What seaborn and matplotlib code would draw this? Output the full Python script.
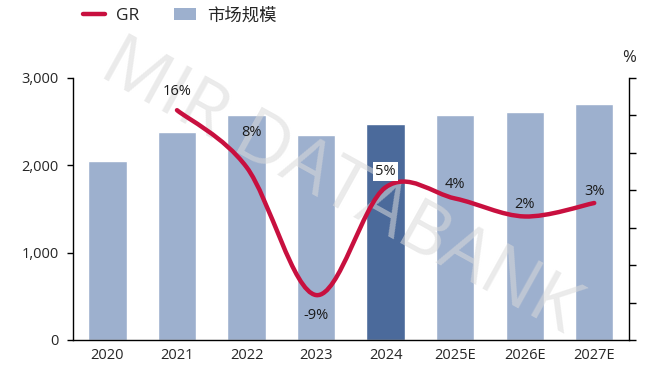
import numpy as np
import pandas as pd
import matplotlib
matplotlib.use("Agg")
import matplotlib.pyplot as plt
import seaborn as sns
from matplotlib.path import Path
from matplotlib.patches import PathPatch, Patch
from matplotlib.lines import Line2D
from matplotlib.ticker import FuncFormatter

years = ["2020", "2021", "2022", "2023", "2024", "2025E", "2026E", "2027E"]
market_size = [2050, 2382, 2576, 2347, 2473, 2576, 2611, 2702]
gr_years = ["2021", "2022", "2023", "2024", "2025E", "2026E", "2027E"]
gr_values = [15.7, 8.1, -9.0, 5.4, 3.9, 1.5, 3.3]

LIGHT = "#9DB0CE"
DARK = "#4B6A9B"
RED = "#C8103F"

sns.set_style("white")
plt.rcParams["font.family"] = ["Open Sans", "Noto Sans CJK SC", "DejaVu Sans"]

fig = plt.figure(figsize=(6.71, 3.73), dpi=100)
ax = fig.add_axes([0.1083, 0.0885, 0.8291, 0.7024])

df = pd.DataFrame({"year": years, "size": market_size})
palette = {y: (DARK if y == "2024" else LIGHT) for y in years}
sns.barplot(data=df, x="year", y="size", hue="year", palette=palette,
            width=0.55, legend=False, saturation=1, ax=ax, zorder=2)

ax.set_xlim(-0.5, 7.5)
ax.set_ylim(0, 3000)
ax.set_yticks([0, 1000, 2000, 3000])
ax.yaxis.set_major_formatter(FuncFormatter(lambda v, p: f"{v:,.0f}"))
ax.set_xlabel("")
ax.set_ylabel("")
for s in ["top", "right"]:
    ax.spines[s].set_visible(False)
for s in ["left", "bottom"]:
    ax.spines[s].set_color("black")
    ax.spines[s].set_linewidth(1)
ax.tick_params(axis="y", length=4, width=1, color="black", labelsize=10.5, pad=6)
ax.tick_params(axis="x", length=0, labelsize=10.5, pad=6)

# watermark
ax.text(0.48, 0.58, "MIR DATABANK", transform=ax.transAxes, fontsize=53,
        color="#DADADA", alpha=0.55, rotation=-29, ha="center", va="center",
        family="Open Sans", fontweight="normal", zorder=3)

# growth rate on right axis
ax2 = ax.twinx()
ax2.set_ylim(-15, 20)
ax2.set_yticks(np.arange(-15, 21, 5))
ax2.set_yticklabels([])
ax2.tick_params(axis="y", length=5, width=1, color="black")
for s in ["top", "left", "bottom"]:
    ax2.spines[s].set_visible(False)
ax2.spines["right"].set_color("black")
ax2.spines["right"].set_linewidth(1)

xs = np.array([years.index(y) for y in gr_years], dtype=float)
ys = np.array(gr_values, dtype=float)
pts = np.column_stack([xs, ys])
ext = np.vstack([pts[0], pts, pts[-1]])
verts = [tuple(pts[0])]
codes = [Path.MOVETO]
for i in range(1, len(ext) - 2):
    p0, p1, p2, p3 = ext[i - 1], ext[i], ext[i + 1], ext[i + 2]
    c1 = p1 + (p2 - p0) / 6
    c2 = p2 - (p3 - p1) / 6
    verts += [tuple(c1), tuple(c2), tuple(p2)]
    codes += [Path.CURVE4] * 3
ax2.add_patch(PathPatch(Path(verts, codes), facecolor="none", edgecolor=RED,
                        lw=3.2, capstyle="round", zorder=4))

offsets = [(0, 19), (5, 35), (0, -20), (0, 16), (0, 14), (0, 12), (0, 12)]
for x, v, off in zip(xs, gr_values, offsets):
    box = None
    if gr_years[int(x) - 1] == "2024":
        box = dict(boxstyle="square,pad=0.15", fc="white", ec="none")
    ax2.annotate(f"{v:.0f}%", (x, v), xytext=off, textcoords="offset pixels",
                 ha="center", va="center", fontsize=10.5, color="#1a1a1a",
                 bbox=box, zorder=5)

fig.text(0.9374, 0.845, "%", ha="center", va="center", fontsize=12)

handles = [Line2D([], [], color=RED, lw=3.2),
           Patch(facecolor=LIGHT, edgecolor="none")]
fig.legend(handles, ["GR", "市场规模"], loc="center left",
           bbox_to_anchor=(0.10, 0.957), ncol=2, frameon=False,
           fontsize=12.5, handlelength=1.3, handletextpad=0.6, columnspacing=2.0)

fig.savefig("out.png", dpi=100)
